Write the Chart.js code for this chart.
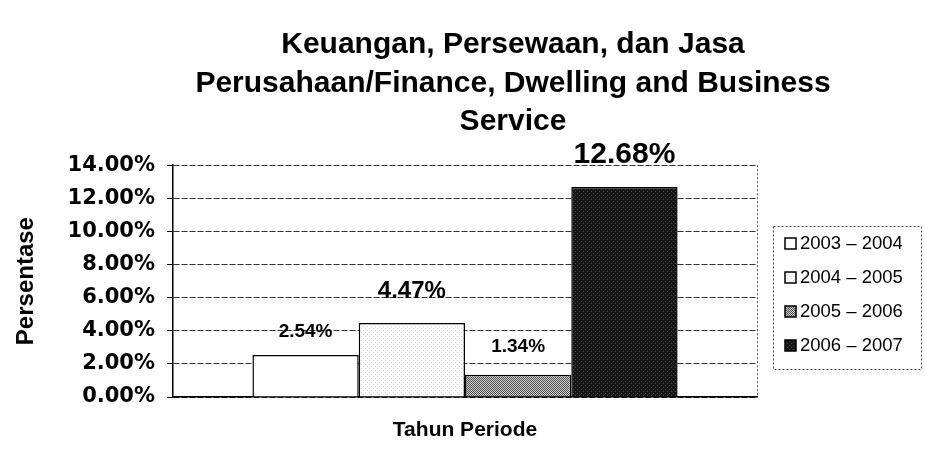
<!DOCTYPE html>
<html>
<head>
<meta charset="utf-8">
<script src="https://cdn.jsdelivr.net/npm/chart.js@4/dist/chart.umd.min.js"></script>
<style>
  html, body { margin: 0; padding: 0; background: #fff; }
  #wrap { width: 925px; height: 469px; position: relative; }
</style>
</head>
<body>
<div id="wrap"><canvas id="c" width="925" height="469"></canvas></div>
<script>
// ---- data ----
const categories = [''];
const periodLabels = ['2003 \u2013 2004', '2004 \u2013 2005', '2005 \u2013 2006', '2006 \u2013 2007'];
const growthValues = [2.54, 4.47, 1.34, 12.68];
const yTickMin = 0;
const yTickMax = 14;
const yTickStep = 2;
const titleLines = ['Keuangan, Persewaan, dan Jasa', 'Perusahaan/Finance, Dwelling and Business', 'Service'];
const yAxisTitle = 'Persentase';
const xAxisTitle = 'Tahun Periode';

// ---- styles ----
const labelFontSizes = [19, 24, 19, 30];
const labelGaps = [18, 25, 23, 24];

function makePattern(kind) {
  const c = document.createElement('canvas');
  c.width = 4; c.height = 4;
  const g = c.getContext('2d');
  if (kind === 'white') {
    g.fillStyle = '#ffffff'; g.fillRect(0, 0, 4, 4);
  } else if (kind === 'speckle') {
    g.fillStyle = '#fbfbfb'; g.fillRect(0, 0, 4, 4);
    g.fillStyle = '#d8d8d8'; g.fillRect(1, 0, 1, 1); g.fillRect(3, 2, 1, 1);
  } else if (kind === 'checker') {
    g.fillStyle = '#d4d4d4'; g.fillRect(0, 0, 4, 4);
    g.fillStyle = '#4a4a4a';
    g.fillRect(0, 0, 1, 1); g.fillRect(2, 0, 1, 1); g.fillRect(1, 1, 1, 1); g.fillRect(3, 1, 1, 1);
    g.fillRect(0, 2, 1, 1); g.fillRect(2, 2, 1, 1); g.fillRect(1, 3, 1, 1); g.fillRect(3, 3, 1, 1);
  } else {
    g.fillStyle = '#161616'; g.fillRect(0, 0, 4, 4);
    g.fillStyle = '#4a4a4a'; g.fillRect(1, 1, 1, 1); g.fillRect(3, 3, 1, 1);
  }
  return g.createPattern(c, 'repeat');
}
const fills = [makePattern('white'), makePattern('speckle'), makePattern('checker'), makePattern('dark')];

const datasets = periodLabels.map((lab, i) => ({
  label: lab,
  data: [growthValues[i]],
  backgroundColor: fills[i],
  borderColor: '#000',
  borderWidth: 1.5,
  borderSkipped: 'bottom',
  categoryPercentage: 0.728,
  barPercentage: 1.0
}));

const titleShiftPlugin = {
  id: 'titleShift',
  afterLayout(chart) {
    const t = chart.titleBlock;
    if (t) { t.left = 101; t.right = 925; t.width = 824; }
  }
};

const valueLabelPlugin = {
  id: 'valueLabels',
  afterDatasetsDraw(chart) {
    const ctx = chart.ctx;
    ctx.save();
    chart.data.datasets.forEach((ds, i) => {
      const meta = chart.getDatasetMeta(i);
      meta.data.forEach((bar, j) => {
        const v = ds.data[j];
        ctx.font = 'bold ' + labelFontSizes[i] + 'px "Liberation Sans", Arial, sans-serif';
        ctx.fillStyle = '#000';
        ctx.textAlign = 'center';
        ctx.textBaseline = 'alphabetic';
        ctx.fillText(v.toFixed(2) + '%', bar.x, bar.y - labelGaps[i]);
      });
    });
    ctx.restore();
  }
};

const frameLegendPlugin = {
  id: 'frameLegend',
  afterDraw(chart) {
    const ctx = chart.ctx;
    const a = chart.chartArea;
    ctx.save();
    ctx.strokeStyle = '#555';
    ctx.lineWidth = 1;
    ctx.setLineDash([2, 2]);
    ctx.beginPath();
    ctx.moveTo(a.right + 0.5, a.top);
    ctx.lineTo(a.right + 0.5, a.bottom);
    ctx.stroke();
    const lx = 773, ly = 226, lw = 148, lh = 143;
    ctx.strokeStyle = '#444';
    ctx.strokeRect(lx + 0.5, ly + 0.5, lw, lh);
    ctx.setLineDash([]);
    const rowY = [243, 277, 311, 345];
    chart.data.datasets.forEach((ds, i) => {
      const y = rowY[i];
      ctx.fillStyle = ds.backgroundColor;
      ctx.fillRect(785, y - 5, 11, 11);
      ctx.strokeStyle = '#000';
      ctx.lineWidth = 1.5;
      ctx.strokeRect(785, y - 5, 11, 11);
      ctx.fillStyle = '#000';
      ctx.font = '18.5px "Liberation Sans", Arial, sans-serif';
      ctx.textAlign = 'left';
      ctx.textBaseline = 'middle';
      ctx.fillText(ds.label, 800, y + 1);
    });
    ctx.restore();
  }
};

new Chart(document.getElementById('c'), {
  type: 'bar',
  data: { labels: categories, datasets: datasets },
  options: {
    responsive: false,
    animation: false,
    devicePixelRatio: 1,
    layout: { padding: { left: 0, right: 168, top: 0, bottom: 0 } },
    plugins: {
      legend: { display: false },
      tooltip: { enabled: false },
      title: {
        display: true,
        text: titleLines,
        color: '#000',
        font: { family: '"Liberation Sans", Arial, sans-serif', size: 30, weight: 'bold', lineHeight: 1.28 },
        padding: { top: 26, bottom: 24 }
      }
    },
    scales: {
      x: {
        type: 'category',
        ticks: { display: false },
        grid: { display: false },
        border: { display: true, color: '#000', width: 1.5 },
        title: {
          display: true,
          text: xAxisTitle,
          color: '#000',
          font: { family: '"Liberation Sans", Arial, sans-serif', size: 21, weight: 'bold', lineHeight: 1.2 },
          padding: { top: 0, bottom: 26 }
        },
        afterFit(scale) { scale.height = 72; }
      },
      y: {
        min: yTickMin,
        max: yTickMax,
        ticks: {
          stepSize: yTickStep,
          color: '#000',
          padding: 12,
          font: { family: '"DejaVu Sans", Verdana, sans-serif', size: 21, weight: 'bold' },
          callback: (v) => Number(v).toFixed(2) + '%'
        },
        grid: {
          color: '#333',
          lineWidth: 1,
          tickLength: 6,
          tickColor: '#000'
        },
        border: { display: true, color: '#000', width: 1.5, dash: [6, 2] },
        title: {
          display: true,
          text: yAxisTitle,
          color: '#000',
          font: { family: '"Liberation Sans", Arial, sans-serif', size: 24, weight: 'bold', lineHeight: 1.2 },
          padding: { top: 12, bottom: 0 }
        },
        afterFit(scale) { scale.width = 173; }
      }
    }
  },
  plugins: [titleShiftPlugin, valueLabelPlugin, frameLegendPlugin]
});
</script>
</body>
</html>
